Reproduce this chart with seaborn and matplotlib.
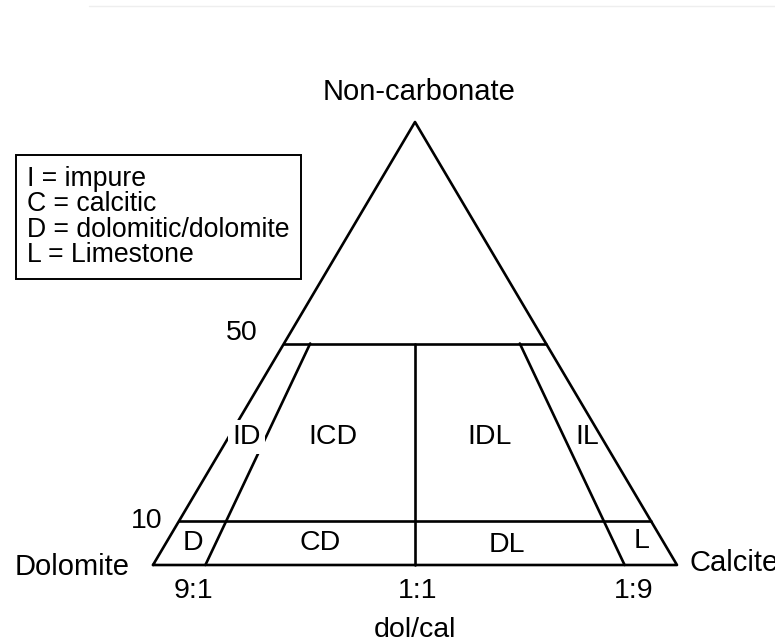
import matplotlib
matplotlib.use("Agg")
import matplotlib.pyplot as plt
from matplotlib.lines import Line2D
from matplotlib.transforms import ScaledTranslation
import pandas as pd
import seaborn as sns


# chart content
VERTEX_NAMES = ["Dolomite", "Calcite", "Non-carbonate"]
NC_LEVELS = [0.10, 0.50]          # non-carbonate fraction of the horizontal cut lines
NC_LEVEL_LABELS = ["10", "50"]
DOL_SHARES = [0.9, 0.5, 0.1]      # dolomite share of the carbonate (dol/cal ratio lines)
RATIO_LABELS = ["9:1", "1:1", "1:9"]
RATIO_AXIS_TITLE = "dol/cal"
REGION_NAMES = ["ID", "ICD", "IDL", "IL", "D", "CD", "DL", "L"]
KEY_LINES = ["I = impure", "C = calcitic", "D = dolomitic/dolomite", "L = Limestone"]

FONT = ["Liberation Sans", "DejaVu Sans"]


def tern(nc, dol):
    # dolomite corner at x=0, calcite at x=1, non-carbonate apex at (0.5, 1)
    return 0.5 * nc + (1 - nc) * (1 - dol), nc


def build_segments():
    rows = []

    def add(name, pts):
        for x, y in pts:
            rows.append({"seg": name, "x": x, "y": y})

    add("outline", [tern(0, 1), tern(1, 0.5), tern(0, 0), tern(0, 1)])
    for level in NC_LEVELS:
        add(f"nc_{level}", [tern(level, 1), tern(level, 0)])
    for share in DOL_SHARES:
        add(f"ratio_{share}", [tern(0, share), tern(max(NC_LEVELS), share)])
    return pd.DataFrame(rows)


def main():
    sns.set_theme(style="white")
    plt.rcParams["font.family"] = FONT
    plt.rcParams["text.color"] = "black"

    fig = plt.figure(figsize=(7.75, 6.42), dpi=100)
    ax = fig.add_axes([0, 0, 1, 1])

    segments = build_segments()
    sns.lineplot(
        data=segments,
        x="x",
        y="y",
        units="seg",
        estimator=None,
        sort=False,
        color="black",
        linewidth=1.9,
        legend=False,
        ax=ax,
    )

    # map triangle to the reference pixel frame (base 153..677 px, base y 565, apex y 122)
    ax.set_xlim(-153 / 524, 622 / 524)
    ax.set_ylim(-77 / 443, 565 / 443)
    ax.set_axis_off()

    def shifted(dx, dy):
        return ax.transData + ScaledTranslation(dx, dy, fig.dpi_scale_trans)

    # vertex names
    ax.text(*tern(0, 1), VERTEX_NAMES[0], fontsize=21, ha="right", va="center",
            transform=shifted(-0.23, -0.02))
    ax.text(*tern(0, 0), VERTEX_NAMES[1], fontsize=21, ha="left", va="center",
            transform=shifted(0.13, 0.02))
    ax.text(*tern(1, 0.5), VERTEX_NAMES[2], fontsize=21, ha="center", va="center",
            transform=shifted(0.04, 0.30))

    # level labels on the left edge
    level_offsets = [(-0.17, 0.0), (-0.26, 0.10)]
    for level, label, (dx, dy) in zip(NC_LEVELS, NC_LEVEL_LABELS, level_offsets):
        ax.text(*tern(level, 1), label, fontsize=20.5, ha="right", va="center",
                transform=shifted(dx, dy))

    # ratio labels under the base
    ratio_offsets = [-0.12, 0.03, 0.09]
    for share, label, dx in zip(DOL_SHARES, RATIO_LABELS, ratio_offsets):
        ax.text(*tern(0, share), label, fontsize=20.5, ha="center", va="center",
                transform=shifted(dx, -0.26))
    ax.text(*tern(0, 0.5), RATIO_AXIS_TITLE, fontsize=20.5, ha="center", va="center",
            transform=shifted(0.0, -0.65))

    # region labels, positions in triangle coordinates
    region_pos = {
        "ID": (0.179, 0.289), "ICD": (0.344, 0.289), "IDL": (0.643, 0.289), "IL": (0.828, 0.289),
        "D": (0.076, 0.050), "CD": (0.319, 0.050), "DL": (0.676, 0.045), "L": (0.933, 0.054),
    }
    for name in REGION_NAMES:
        x, y = region_pos[name]
        kw = {}
        if name == "ID":
            kw["bbox"] = dict(facecolor="white", edgecolor="none", pad=3)
        ax.text(x, y, name, fontsize=20.5, ha="center", va="center", zorder=5, **kw)

    # key box
    fig.text(27 / 775, 1 - 217 / 642, "\n".join(KEY_LINES), fontsize=19.2, ha="left", va="center",
             linespacing=0.97,
             bbox=dict(boxstyle="square,pad=0.42", facecolor="white", edgecolor="black", linewidth=1.4))

    # faint scan line at the top
    fig.add_artist(Line2D([89 / 775, 1], [1 - 6 / 642, 1 - 6 / 642], color="#eeeeee", linewidth=1))

    fig.savefig("out.png", dpi=100, facecolor="white")


if __name__ == "__main__":
    main()
